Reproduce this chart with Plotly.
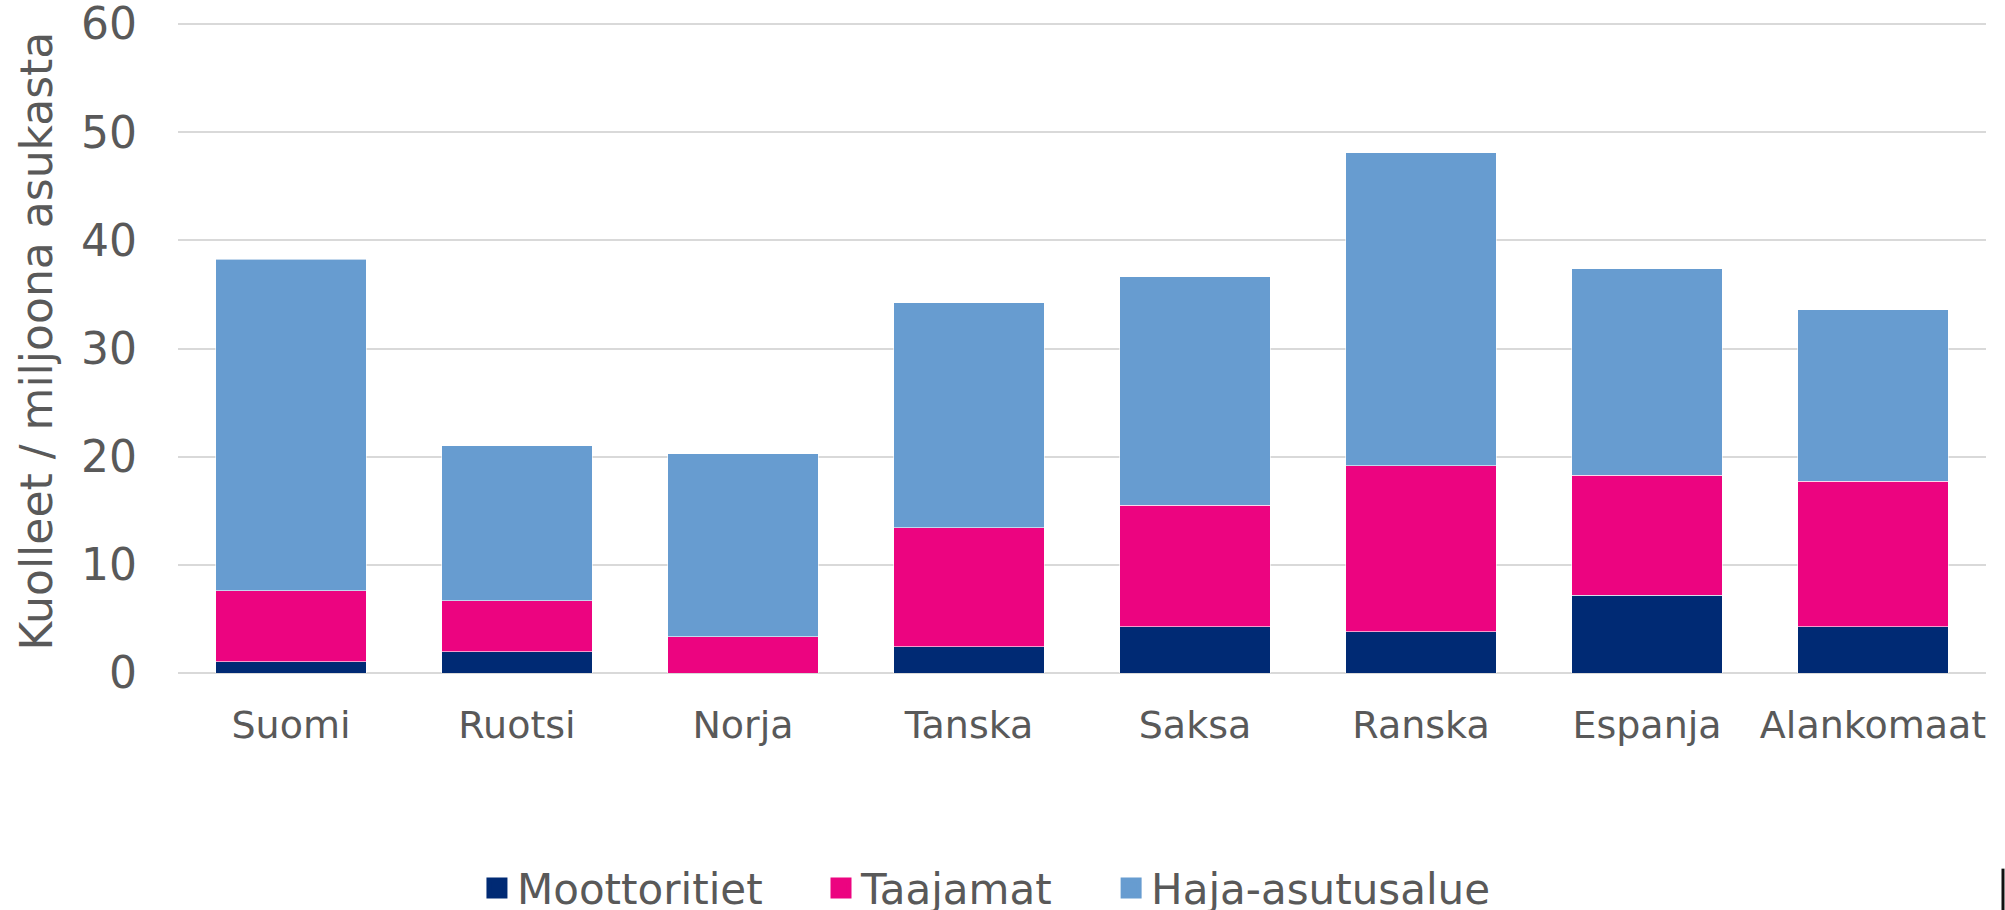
import plotly.graph_objects as go

# Kuolleet / miljoona asukasta, tieympäristön mukaan
maat = ['Suomi', 'Ruotsi', 'Norja', 'Tanska', 'Saksa', 'Ranska', 'Espanja', 'Alankomaat']
moottoritiet = [1.03, 1.97, 0.0, 2.43, 4.28, 3.82, 7.21, 4.28]
taajamat = [6.56, 4.73, 3.35, 11.02, 11.21, 15.35, 11.07, 13.47]
haja_asutusalue = [30.67, 14.30, 16.92, 20.80, 21.14, 28.92, 19.10, 15.84]

sarjat = ['Moottoritiet', 'Taajamat', 'Haja-asutusalue']
varit = ['#002a74', '#ec0480', '#679cd0']

FONT = 'DejaVu Sans'
TEKSTI = '#595959'
VALI = '\u00a0' * 4  # extra room between legend entries

fig = go.Figure()

for nimi, arvot, vari in zip(sarjat, [moottoritiet, taajamat, haja_asutusalue], varit):
    fig.add_trace(go.Bar(
        x=maat,
        y=arvot,
        name=nimi,
        marker=dict(color=vari, line=dict(color='rgba(255,255,255,0.6)', width=1)),
        showlegend=False,
    ))

# legend entries with larger square symbols
for i, (nimi, vari) in enumerate(zip(sarjat, varit)):
    fig.add_trace(go.Scatter(
        x=[None], y=[None],
        mode='markers',
        name=nimi + (VALI if i < len(sarjat) - 1 else ''),
        marker=dict(symbol='square', size=16, color=vari, line=dict(color=vari, width=5)),
    ))

fig.add_annotation(
    text='Kuolleet / miljoona asukasta',
    xref='paper', yref='paper',
    x=-0.0785, y=0.51,
    xanchor='center', yanchor='middle',
    textangle=-90,
    showarrow=False,
    font=dict(family=FONT, size=44, color=TEKSTI),
)

# small dark mark at the right edge of the original picture
fig.add_shape(
    type='line', xref='paper', yref='paper',
    x0=1.0094, x1=1.0094, y0=-0.301, y1=-0.37,
    line=dict(color='#111111', width=3),
)

fig.update_layout(
    barmode='stack',
    bargap=0.336,
    width=2005,
    height=910,
    margin=dict(l=178, r=19, t=23, b=237, autoexpand=False),
    plot_bgcolor='white',
    paper_bgcolor='white',
    font=dict(family=FONT, color=TEKSTI),
    showlegend=True,
    legend=dict(
        orientation='h',
        traceorder='normal',
        xref='container', yref='paper',
        x=0.492, y=-0.331,
        xanchor='center', yanchor='middle',
        itemsizing='trace',
        font=dict(family=FONT, size=42, color=TEKSTI),
        bgcolor='rgba(0,0,0,0)',
    ),
    xaxis=dict(
        showgrid=False,
        showline=False,
        ticks='',
        ticklabelstandoff=26,
        tickfont=dict(family=FONT, size=38, color=TEKSTI),
    ),
    yaxis=dict(
        range=[0, 60.1],
        tickvals=[0, 10, 20, 30, 40, 50, 60],
        showgrid=True,
        gridcolor='#d9d9d9',
        gridwidth=2,
        zeroline=True,
        zerolinecolor='#d9d9d9',
        zerolinewidth=2,
        showline=False,
        ticks='',
        ticklabelstandoff=40,
        ticklabeloverflow='allow',
        tickfont=dict(family=FONT, size=44, color=TEKSTI),
    ),
)

fig.write_html(
    'out.html',
    config={'displayModeBar': False},
    post_script="document.body.style.margin='0';",
)
